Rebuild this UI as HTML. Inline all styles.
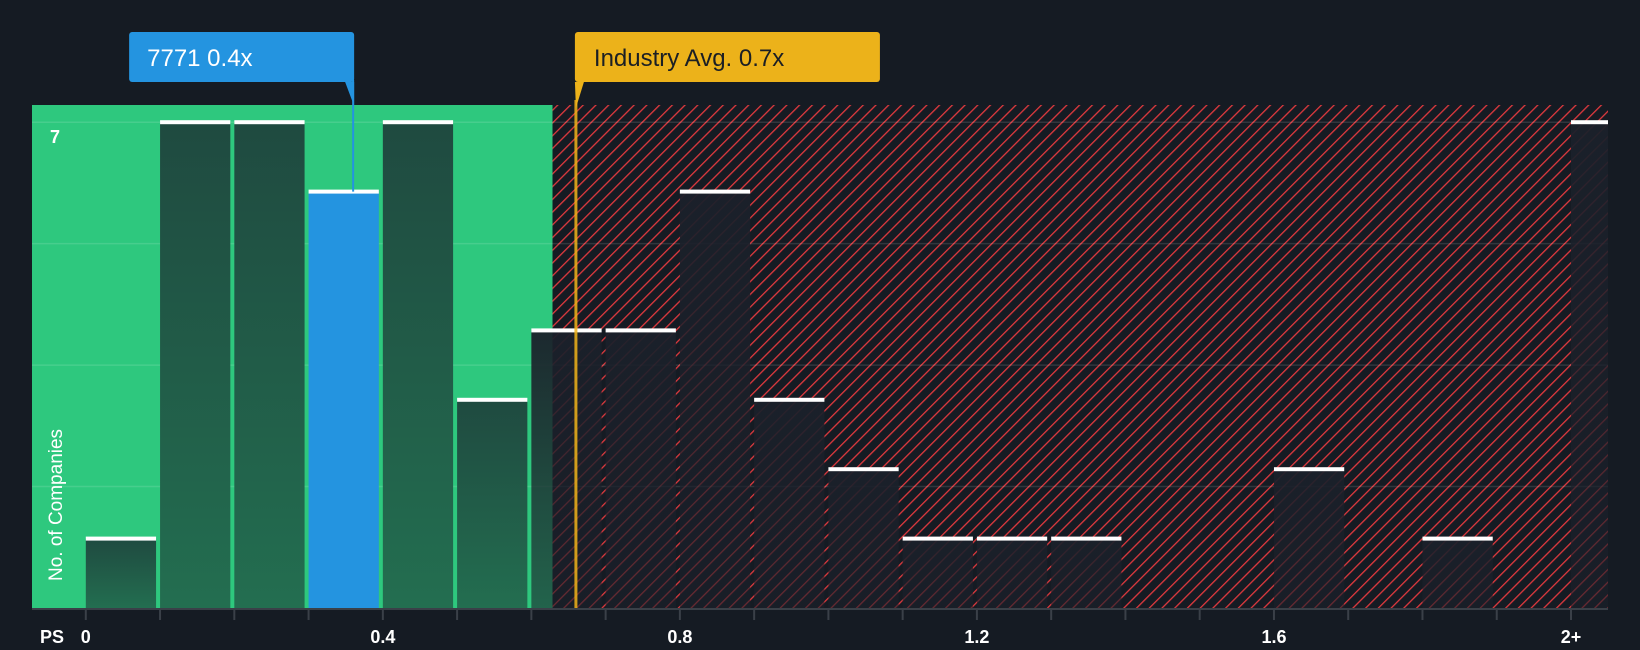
<!DOCTYPE html>
<html><head><meta charset="utf-8"><style>
html,body{margin:0;padding:0;background:#151b23;}
svg{display:block;font-family:"Liberation Sans",sans-serif;}
</style></head><body>
<svg id="chart" width="1640" height="650" viewBox="0 0 1640 650">
<defs>
<pattern id="hatch" patternUnits="userSpaceOnUse" width="9" height="9" patternTransform="rotate(45)">
<rect width="9" height="9" fill="#151b23"/>
<line x1="0" y1="0" x2="0" y2="9" stroke="#e0393e" stroke-width="2.6"/>
</pattern>
<linearGradient id="gbar" x1="0" y1="0" x2="0" y2="1"><stop offset="0" stop-color="#1f4a40"/><stop offset="1" stop-color="#236e50"/></linearGradient>
<linearGradient id="rbar" x1="0" y1="0" x2="0" y2="1"><stop offset="0" stop-color="#1b202a" stop-opacity="0.95"/><stop offset="1" stop-color="#1b202a" stop-opacity="0.6"/></linearGradient>
</defs>
<g id="plot"></g>
</svg>
<script>
const binStarts=[0,0.1,0.2,0.3,0.4,0.5,0.6,0.7,0.8,0.9,1.0,1.1,1.2,1.3,1.4,1.5,1.6,1.7,1.8,1.9,2.0];
const counts=[1,7,7,6,7,3,4,4,6,3,2,1,1,1,0,0,2,0,1,0,7];
const tickLabels=["0","0.4","0.8","1.2","1.6","2+"];
const tickValues=[0,0.4,0.8,1.2,1.6,2.0];
const companyValue=0.36, companyLabel="7771 0.4x";
const industryValue=0.66, industryLabel="Industry Avg. 0.7x";
const fairCutoff=0.6285;
const yMaxLabel="7";

const NS="http://www.w3.org/2000/svg";
const L=32,R=1608,T=105,B=608;
const xS=v=>85.8+v*742.6;
const yS=v=>608-v*69.4;
const g=document.getElementById('plot');
function mk(tag,a,parent){const e=document.createElementNS(NS,tag);for(const k in a)e.setAttribute(k,a[k]);(parent||g).appendChild(e);return e;}

const cut=xS(fairCutoff);
let e=mk('rect',{x:L,y:T,width:cut-L,height:B-T,fill:'#2ec87e'});


e=mk('rect',{x:cut,y:T,width:R-cut,height:B-T,fill:'url(#hatch)'});



[1.75,3.5,5.25,7].forEach(v=>{
 const l=mk('line',{x1:L,x2:R,y1:yS(v),y2:yS(v),stroke:'rgba(255,255,255,0.12)','stroke-width':1.5});
 
 
});

const bw=0.1*742.6;
binStarts.forEach((s,i)=>{
 const c=counts[i]; if(c<=0) return;
 const x=xS(s), w=bw-4, y=yS(c);
 const wClip=Math.min(w,R-x);
 const isCo=companyValue>=s&&companyValue<s+0.1;
 const inGreen=x+w<=cut+1;
 const fill=isCo?'#2494e0':(inGreen?'url(#gbar)':'url(#rbar)');
 const b=mk('rect',{x:x,y:y,width:wClip,height:B-y,fill:fill});
 
 
 const cap=mk('rect',{x:x,y:y-2,width:wClip,height:4,fill:'#ffffff'});
 
 
});

e=mk('line',{x1:L,x2:R,y1:B+1,y2:B+1,stroke:'#3a4048','stroke-width':2});


binStarts.forEach(s=>{
 const t=mk('line',{x1:xS(s),x2:xS(s),y1:B,y2:B+12,stroke:'#3a4048','stroke-width':2});
 
 
});
tickValues.forEach((v,i)=>{
 const t=mk('text',{x:xS(v),y:643,fill:'#fff','font-size':18,'font-weight':'bold','text-anchor':'middle'});
 t.textContent=tickLabels[i];
 
 
});
e=mk('text',{x:40,y:643,fill:'#fff','font-size':18,'font-weight':'bold'});e.textContent='PS';


e=mk('text',{x:50,y:143,fill:'#fff','font-size':18,'font-weight':'bold'});e.textContent=yMaxLabel;


e=mk('text',{x:0,y:0,fill:'#fff','font-size':19,'text-anchor':'middle',transform:'translate(62,505) rotate(-90)'});e.textContent='No. of Companies';



// industry line + callout
const ix=xS(industryValue);
e=mk('line',{x1:ix,x2:ix,y1:100,y2:B,stroke:'#f0b31a','stroke-width':3,opacity:0.85});


e=mk('path',{d:`M${ix-1} 82 L${ix+8} 82 L${ix} 108 Z`,fill:'#ecb21a'});


e=mk('rect',{x:ix-1,y:32,width:305,height:50,rx:3,fill:'#ecb21a'});


e=mk('text',{x:ix+18,y:66,fill:'#1b1f24','font-size':24});e.textContent=industryLabel;



// company callout
const cx=xS(companyValue);
const coTop=yS(counts[binStarts.findIndex(s=>companyValue>=s&&companyValue<s+0.1)]);
e=mk('line',{x1:cx,x2:cx,y1:80,y2:coTop,stroke:'#2494e0','stroke-width':2});


e=mk('path',{d:`M${cx-8} 82 L${cx+1} 82 L${cx+1} 106 Z`,fill:'#2494e0'});


e=mk('rect',{x:cx-224,y:32,width:225,height:50,rx:3,fill:'#2494e0'});


e=mk('text',{x:cx-206,y:66,fill:'#fff','font-size':24});e.textContent=companyLabel;


</script>
</body></html>
